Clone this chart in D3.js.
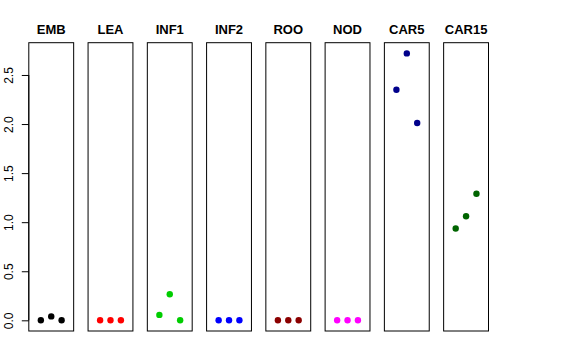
<!DOCTYPE html>
<html><head><meta charset="utf-8">
<script src="https://cdn.jsdelivr.net/npm/d3@7"></script>
<style>body{margin:0;background:#fff;}svg{display:block;font-family:"Liberation Sans",Arial,sans-serif;}</style>
</head><body>
<script>
const categories = ["EMB","LEA","INF1","INF2","ROO","NOD","CAR5","CAR15"];
const colors = ["#000000","#FF0000","#00CD00","#0000FF","#8B0000","#FF00FF","#00008B","#006400"];
const valEMB = [0, 0.04, 0];
const valLEA = [0, 0, 0];
const valINF1 = [0.055, 0.265, 0];
const valINF2 = [0, 0, 0];
const valROO = [0, 0, 0];
const valNOD = [0, 0, 0];
const valCAR5 = [2.35, 2.72, 2.01];
const valCAR15 = [0.935, 1.06, 1.29];
const seriesValues = [valEMB,valLEA,valINF1,valINF2,valROO,valNOD,valCAR5,valCAR15];
const yTicks = [0, 0.5, 1.0, 1.5, 2.0, 2.5];
const xPositions = [1, 2, 3];

(function(){
const W = 576, H = 360;
const svg = d3.select("body").append("svg").attr("width", W).attr("height", H);

const plotTop = 42.7, plotBottom = 331;
const yMax = d3.max(seriesValues.flat());
const ext = yMax * 0.04;
const y = d3.scaleLinear().domain([-ext, yMax + ext]).range([plotBottom, plotTop]);

const panelX = d3.scaleBand().domain(categories).range([28.8, 488.5]).paddingInner(0.243).paddingOuter(0);

categories.forEach((cat, i) => {
  const x0 = panelX(cat), bw = panelX.bandwidth();
  const x = d3.scaleLinear().domain([-0.16, 4.16]).range([x0, x0 + bw]);
  const g = svg.append("g");
  g.append("rect").attr("x", x0).attr("y", plotTop).attr("width", bw).attr("height", plotBottom - plotTop)
    .attr("fill", "none").attr("stroke", "#000").attr("stroke-width", 1);
  g.append("text").attr("x", x0 + bw / 2).attr("y", 34).attr("text-anchor", "middle")
    .attr("font-weight", "bold").attr("font-size", 13).text(cat);
  g.selectAll("circle").data(seriesValues[i]).join("circle")
    .attr("cx", (d, j) => x(xPositions[j])).attr("cy", d => y(d)).attr("r", 3.2)
    .attr("fill", colors[i]);
});

const axis = d3.axisLeft(y).tickValues(yTicks).tickFormat(d3.format(".1f")).tickSize(7).tickPadding(4);
const ag = svg.append("g").attr("transform", `translate(${panelX(categories[0])},0)`).call(axis);
ag.select(".domain").attr("d", `M0,${y(0)}V${y(2.5)}`).attr("stroke","#000");
ag.selectAll(".tick line").attr("stroke","#000");
ag.selectAll(".tick text").attr("font-size", 12).attr("font-family", "Liberation Sans, Arial, sans-serif")
  .attr("fill","#000")
  .attr("text-anchor", "middle")
  .attr("transform", d => `translate(-15.3,0) rotate(-90)`)
  .attr("x", 0).attr("y", 0).attr("dy", 0);
})();
</script>
</body></html>
